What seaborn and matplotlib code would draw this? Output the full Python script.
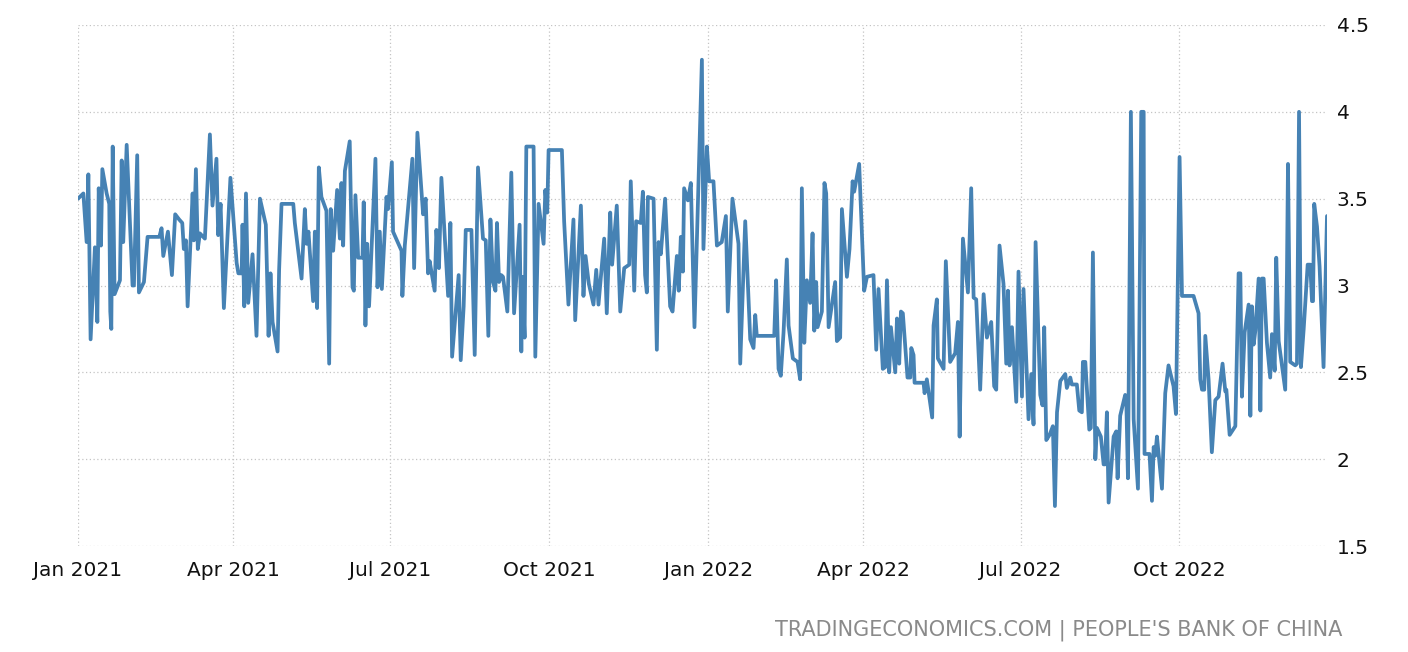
import numpy as np
import pandas as pd
import matplotlib
matplotlib.use("Agg")
import matplotlib.pyplot as plt
import seaborn as sns

# ---------------- data ----------------
start_date = "2021-01-01"

day_offsets = [
    0, 3.1, 5.0, 6.0, 7.3, 8.9, 9.8, 11.2, 12.0, 13.3, 14.1, 16.6, 18.1, 18.7, 19.3, 20.1, 21.2, 24.3, 25.3, 26.2,
    28.2, 31.6, 32.4, 34.3, 35.3, 38.2, 40.3, 47.1, 48.4, 49.4, 52.1, 54.4, 56.3, 58.6, 60.4, 61.3, 62.5, 63.5,
    66.4, 67.1, 68.3, 69.4, 70.6, 73.5, 76.4, 77.9, 80.2, 81.2, 82.6, 84.5, 88.3,
    91.9, 92.9, 94.8, 95.3, 96.3, 97.3, 98.6, 101.1, 103.4, 105.4, 108.8, 110.4, 111.5, 112.7, 115.6, 116.5,
    117.9, 124.7, 125.6, 129.5, 131.4, 132.4, 133.5, 136.2, 137.2, 138.5, 139.5, 141.0, 143.9, 145.5, 146.4,
    147.8, 150.1, 151.7, 152.6, 153.6, 154.6, 157.4, 159.0, 159.8, 160.7, 162.3, 164.8, 165.5, 166.5, 167.5,
    168.6, 172.3, 173.5, 174.8, 176.0, 178.7, 179.6, 181.8,
    182.5, 187.4, 187.9, 189.3, 193.7, 194.7, 196.6, 199.9, 201.4, 202.8, 203.7, 206.6, 207.6, 209.1, 210.5,
    214.4, 215.7, 216.7, 220.5, 221.7, 223.4, 224.6, 227.9, 229.8, 231.7, 234.6, 236.2, 237.7, 238.9, 240.4,
    241.8, 242.7, 243.9, 245.2, 246.2, 248.7, 251.0, 252.6, 255.8, 256.8, 257.4, 258.7, 259.7, 263.9, 264.9,
    266.8, 269.7, 270.7, 271.8, 272.6,
    280.3, 281.6, 284.1, 287.0, 288.0, 291.3, 292.8, 294.0, 295.9, 298.6, 300.2, 301.5, 304.8, 306.3, 308.3,
    309.4, 312.1, 314.1, 316.4, 319.3, 320.2, 322.2, 323.3, 326.0, 327.2, 328.5, 329.5, 330.1, 333.4, 335.3,
    336.3, 337.6, 340.1, 341.1, 343.0, 344.4, 346.9, 348.0, 349.2, 350.4, 351.1, 353.3, 355.0, 357.1, 361.4,
    362.3, 364.3, 365.6,
    368.1, 370.1, 372.9, 375.3, 376.4, 379.1, 382.6, 383.6, 386.5, 389.4, 391.3, 392.3, 393.2, 403.3, 404.4,
    405.8, 407.1, 408.7, 410.6, 411.6, 414.1, 416.8, 418.3, 419.3, 420.7, 422.2, 424.1, 425.5, 426.5, 427.6,
    428.4, 430.9, 432.4, 433.4, 434.8, 438.6, 439.6, 441.5, 442.5, 445.4, 446.9, 448.7, 449.6, 452.5, 455.4,
    457.0,
    460.8, 462.4, 463.7, 466.2, 467.6, 468.6, 469.9, 470.9, 473.4, 474.4, 475.7, 476.7, 477.8, 480.5, 482.1,
    482.7, 484.0, 484.6, 489.8, 490.4, 491.7, 494.8, 495.6, 497.5, 498.1, 501.4, 502.7, 505.2, 508.1, 509.7,
    510.7, 512.6, 515.5, 517.4, 518.8, 520.3, 522.6, 524.6, 526.5, 529.0, 530.7, 531.9, 533.8, 536.1, 537.7,
    538.7, 539.6, 541.0, 543.5, 544.8, 546.8, 547.7, 550.6, 552.2,
    553.5, 554.7, 557.4, 558.7, 559.7, 560.9, 562.8, 564.7, 565.9, 567.1, 569.0, 571.9, 572.8, 574.8, 575.7,
    578.6, 580.0, 581.5, 582.1, 583.5, 585.8, 586.7, 587.9, 589.3, 590.2, 592.5, 594.1, 594.9, 596.0, 597.0,
    599.9, 601.4, 602.2, 603.7, 606.6, 607.2, 608.2, 609.9, 611.5, 614.0, 615.9, 617.3, 617.8, 620.7, 622.1,
    623.1, 624.0, 625.0, 627.9, 629.8, 631.7, 634.6, 636.0, 638.1,
    639.5, 646.2, 649.1, 650.1, 651.1, 652.4, 653.0, 654.9, 656.8, 658.8, 660.7, 663.0, 664.6, 665.2, 667.1,
    670.4, 672.3, 673.3, 674.2, 675.8, 678.1, 679.1, 680.0, 681.0, 682.0, 683.9, 684.9, 685.8, 686.8, 688.7,
    690.6, 691.6, 693.2, 694.1, 695.5, 699.3, 700.3, 700.9, 702.2, 705.1, 706.1, 707.3, 708.4, 710.0, 712.3,
    713.8, 714.8, 715.4, 716.1, 717.7, 719.2, 721.5, 723.5,
]

rates = [
    3.50, 3.53, 3.25, 3.64, 2.69, 3.03, 3.22, 2.79, 3.56, 3.23, 3.67, 3.53, 3.47, 2.85, 2.75, 3.80, 2.95, 3.03, 3.72, 3.25,
    3.81, 3.00, 3.00, 3.75, 2.96, 3.02, 3.28, 3.28, 3.33, 3.17, 3.31, 3.06, 3.41, 3.38, 3.36, 3.21, 3.26, 2.88,
    3.53, 3.26, 3.67, 3.21, 3.30, 3.27, 3.87, 3.46, 3.73, 3.29, 3.47, 2.87, 3.62,
    3.13, 3.07, 3.07, 3.35, 2.88, 3.53, 2.90, 3.18, 2.71, 3.50, 3.35, 2.71, 3.07, 2.79, 2.62, 3.09,
    3.47, 3.47, 3.36, 3.04, 3.44, 3.24, 3.31, 2.91, 3.31, 2.87, 3.68, 3.51, 3.43, 2.55, 3.44,
    3.20, 3.55, 3.27, 3.59, 3.23, 3.66, 3.83, 2.99, 2.97, 3.52, 3.16, 3.16, 3.48, 2.77, 3.24,
    2.88, 3.73, 2.99, 3.31, 2.98, 3.51, 3.44, 3.71,
    3.31, 3.20, 2.94, 3.23, 3.73, 3.10, 3.88, 3.41, 3.50, 3.07, 3.14, 2.97, 3.32, 3.10, 3.62,
    2.94, 3.36, 2.59, 3.06, 2.57, 2.88, 3.32, 3.32, 2.60, 3.68, 3.27, 3.26, 2.71, 3.38, 3.02,
    2.97, 3.36, 3.02, 3.06, 3.05, 2.85, 3.65, 2.84, 3.35, 2.62, 3.05, 2.70, 3.80, 3.80, 2.59,
    3.47, 3.24, 3.55, 3.42, 3.78,
    3.78, 3.37, 2.89, 3.38, 2.80, 3.46, 2.94, 3.17, 3.01, 2.89, 3.09, 2.89, 3.27, 2.84, 3.42,
    3.12, 3.46, 2.85, 3.10, 3.12, 3.60, 2.97, 3.37, 3.36, 3.54, 3.06, 2.96, 3.51, 3.50, 2.63,
    3.25, 3.18, 3.50, 3.28, 2.88, 2.85, 3.17, 2.97, 3.28, 3.08, 3.56, 3.49, 3.59, 2.76, 4.30,
    3.21, 3.80, 3.60,
    3.60, 3.23, 3.25, 3.40, 2.85, 3.50, 3.24, 2.55, 3.37, 2.69, 2.64, 2.83, 2.71, 2.71, 3.03,
    2.52, 2.48, 2.73, 3.15, 2.77, 2.58, 2.56, 2.46, 3.56, 2.67, 3.03, 2.90, 3.30, 2.74, 3.02,
    2.76, 2.85, 3.59, 3.53, 2.76, 3.02, 2.68, 2.70, 3.44, 3.05, 3.21, 3.60, 3.54, 3.70, 2.97,
    3.05,
    3.06, 2.63, 2.98, 2.52, 2.53, 3.03, 2.50, 2.76, 2.50, 2.81, 2.55, 2.85, 2.84, 2.47, 2.47,
    2.64, 2.60, 2.44, 2.44, 2.38, 2.46, 2.24, 2.77, 2.92, 2.58, 2.52, 3.14, 2.56, 2.61, 2.79,
    2.13, 3.27, 2.96, 3.56, 2.93, 2.92, 2.40, 2.95, 2.70, 2.79, 2.42, 2.40, 3.23, 3.01, 2.55,
    2.97, 2.54, 2.76, 2.33, 3.08, 2.36, 2.98, 2.23, 2.49,
    2.20, 3.25, 2.37, 2.31, 2.76, 2.11, 2.14, 2.19, 1.73, 2.27, 2.45, 2.49, 2.41, 2.47, 2.43,
    2.43, 2.28, 2.27, 2.56, 2.56, 2.17, 2.18, 3.19, 2.00, 2.18, 2.13, 1.97, 1.97, 2.27, 1.75,
    2.13, 2.16, 1.89, 2.25, 2.37, 2.36, 1.89, 4.00, 2.23, 1.83, 4.00, 4.00, 2.03, 2.03, 1.76,
    2.07, 2.02, 2.13, 1.83, 2.38, 2.54, 2.42, 2.26, 3.74,
    2.94, 2.94, 2.84, 2.46, 2.40, 2.40, 2.71, 2.46, 2.04, 2.34, 2.36, 2.55, 2.39, 2.40, 2.14,
    2.19, 3.07, 3.07, 2.36, 2.73, 2.89, 2.25, 2.88, 2.66, 2.74, 3.04, 2.28, 3.04, 3.04, 2.67,
    2.47, 2.72, 2.51, 3.16, 2.68, 2.40, 3.07, 3.70, 2.56, 2.54, 2.55, 4.00, 2.53, 2.75, 3.12,
    3.12, 2.91, 2.91, 3.47, 3.34, 3.11, 2.53, 3.40,
]

x_tick_dates = ["2021-01-01", "2021-04-01", "2021-07-01", "2021-10-01",
                "2022-01-01", "2022-04-01", "2022-07-01", "2022-10-01"]
x_tick_labels = ["Jan 2021", "Apr 2021", "Jul 2021", "Oct 2021",
                 "Jan 2022", "Apr 2022", "Jul 2022", "Oct 2022"]
y_ticks = [1.5, 2.0, 2.5, 3.0, 3.5, 4.0, 4.5]
y_tick_labels = ["1.5", "2", "2.5", "3", "3.5", "4", "4.5"]
source_text = "TRADINGECONOMICS.COM | PEOPLE'S BANK OF CHINA"

# ---------------- plot ----------------
sns.set_style("white")
plt.rcParams["font.family"] = ["DejaVu Sans"]

W, H = 1408, 652
fig = plt.figure(figsize=(W / 100, H / 100), dpi=100)
ax = fig.add_axes([78 / W, 1 - 546 / H, (1327 - 78) / W, (546 - 25) / H])

dates = pd.Timestamp(start_date) + pd.to_timedelta(day_offsets, unit="D")
df = pd.DataFrame({"date": dates, "rate": rates})

sns.lineplot(data=df, x="date", y="rate", ax=ax, color="#4682b4",
             linewidth=2.7, solid_joinstyle="round", solid_capstyle="round")

ax.set_xlim(df["date"].iloc[0], df["date"].iloc[-1])
ax.set_ylim(1.5, 4.5)

ax.set_xticks(pd.to_datetime(x_tick_dates))
ax.set_xticklabels(x_tick_labels)
ax.set_yticks(y_ticks)
ax.set_yticklabels(y_tick_labels)
ax.yaxis.tick_right()

ax.set_xlabel("")
ax.set_ylabel("")
for s in ax.spines.values():
    s.set_visible(False)

ax.grid(True, linestyle=(0, (1, 2)), color="#c4c4c4", linewidth=0.9)
ax.set_axisbelow(True)

ax.tick_params(axis="x", length=6, width=0.8, color="#d0d0d0", pad=5,
               labelsize=14.5, labelcolor="#111111")
ax.tick_params(axis="y", length=0, pad=7, labelsize=14.5, labelcolor="#111111")

fig.text(1342 / W, 1 - 630 / H, source_text, ha="right", va="center",
         fontsize=15, color="#8a8a8a")

fig.savefig("out.png", dpi=100)
